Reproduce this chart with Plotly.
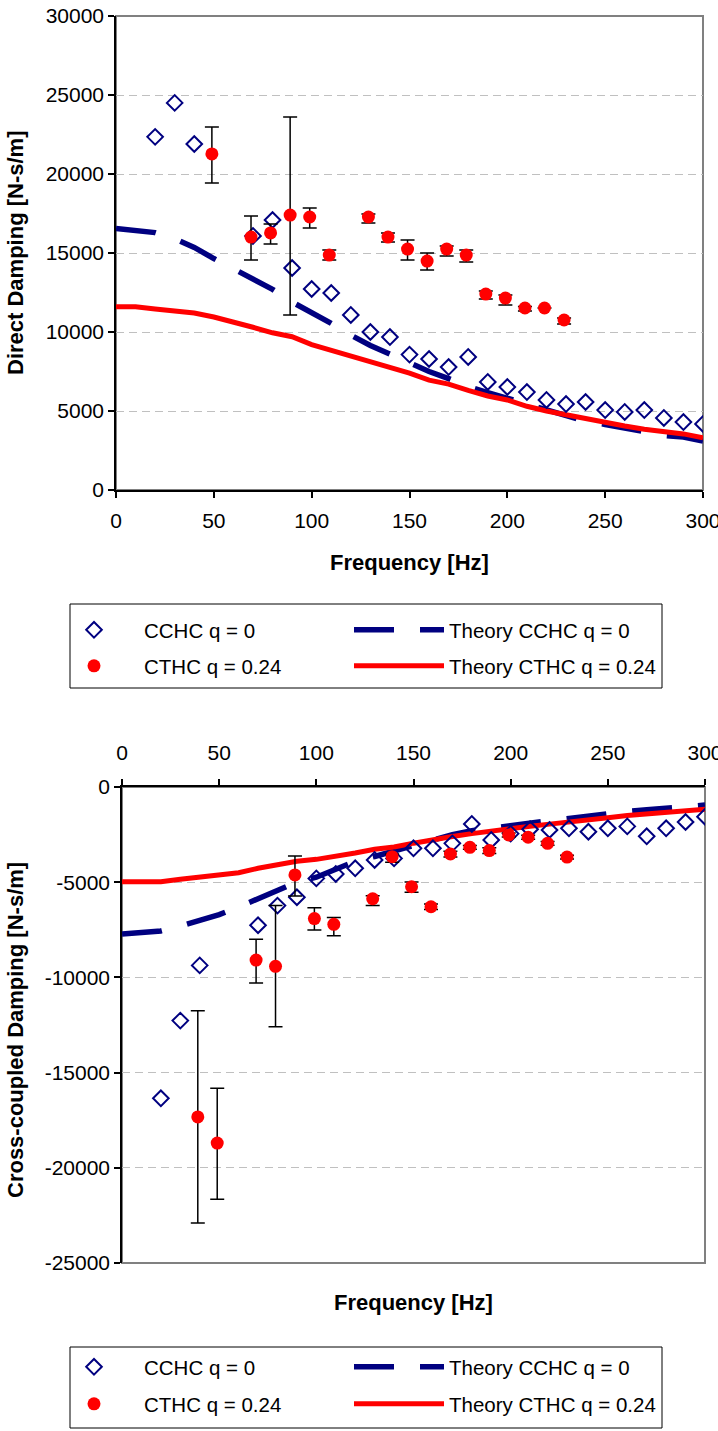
import plotly.graph_objects as go

# ---------------- data ----------------
freq_theory = [0, 10, 20, 30, 40, 50, 60, 70, 80, 90, 100, 110, 120, 130, 140, 150,
               160, 170, 180, 190, 200, 210, 220, 230, 240, 250, 260, 270, 280, 290, 300]

# Direct damping (top)
cchc_freq = [20, 30, 40, 70, 80, 90, 100, 110, 120, 130, 140, 150, 160, 170, 180,
             190, 200, 210, 220, 230, 240, 250, 260, 270, 280, 290, 300]
cchc_direct = [22350, 24500, 21900, 16080, 17090, 14050, 12720, 12470, 11080, 10000,
               9680, 8570, 8290, 7780, 8420, 6840, 6520, 6200, 5700, 5440, 5570, 5060,
               4940, 5060, 4560, 4300, 4180]

cthc_freq_top = [49, 69, 79, 89, 99, 109, 129, 139, 149, 159, 169, 179, 189, 199, 209, 219, 229]
cthc_direct = [21270, 16010, 16270, 17400, 17280, 14870, 17280, 16010, 15250, 14490,
               15250, 14870, 12400, 12150, 11520, 11520, 10760]
cthc_direct_err_plus = [1710, 1330, 570, 6200, 570, 320, 190, 250, 570, 510, 190, 320,
                        200, 190, 100, 0, 130]
cthc_direct_err_minus = [1840, 1450, 700, 6320, 700, 310, 380, 310, 690, 570, 440, 440,
                         310, 440, 190, 0, 250]

theory_cchc_direct = [16550, 16420, 16290, 15900, 15350, 14650, 14000, 13350, 12700,
                      11900, 11250, 10550, 9800, 9150, 8600, 8050, 7500, 7050, 6550,
                      6170, 5800, 5440, 5100, 4700, 4350, 4150, 3950, 3700, 3450, 3350, 3100]
theory_cthc_direct = [11600, 11600, 11450, 11350, 11200, 10950, 10650, 10300, 9950,
                      9700, 9200, 8850, 8500, 8150, 7800, 7400, 6950, 6700, 6300, 5950,
                      5700, 5300, 5000, 4750, 4500, 4300, 4050, 3850, 3700, 3550, 3300]

# Cross-coupled damping (bottom)
cchc_cross = [-16350, -12270, -9370, -7260, -6230, -5790, -4800, -4570, -4270, -3830,
              -3750, -3220, -3220, -2960, -1940, -2780, -2450, -2220, -2260, -2170,
              -2350, -2170, -2070, -2590, -2170, -1840, -1560]

cthc_freq_bot = [39, 49, 69, 79, 89, 99, 109, 129, 139, 149, 159, 169, 179, 189, 199, 209, 219, 229]
cthc_cross = [-17330, -18700, -9090, -9420, -4620, -6910, -7210, -5870, -3660, -5240,
              -6290, -3520, -3170, -3340, -2520, -2640, -2960, -3680]
cthc_cross_err_plus = [5580, 2880, 1090, 3190, 1000, 570, 350, 160, 140, 250, 150, 150,
                       100, 150, 100, 100, 100, 100]
cthc_cross_err_minus = [5570, 2950, 1200, 3170, 1100, 600, 600, 360, 290, 290, 150, 150,
                        100, 150, 100, 100, 100, 100]

theory_cchc_cross = [-7720, -7650, -7560, -7300, -7000, -6700, -6300, -5850, -5450,
                     -5000, -4740, -4300, -3900, -3650, -3350, -3050, -2750, -2500,
                     -2300, -2150, -2020, -1900, -1770, -1650, -1520, -1380, -1280,
                     -1200, -1100, -1000, -950]
theory_cthc_cross = [-4970, -4970, -4970, -4850, -4740, -4620, -4500, -4270, -4100,
                     -3900, -3800, -3650, -3470, -3270, -3150, -2950, -2760, -2600,
                     -2450, -2300, -2180, -2060, -1950, -1820, -1720, -1610, -1500,
                     -1420, -1330, -1250, -1170]

x_ticks = [0, 50, 100, 150, 200, 250, 300]
y_ticks_top = [0, 5000, 10000, 15000, 20000, 25000, 30000]
y_ticklabels_top = ["0", "5000", "10000", "15000", "20000", "25000", "30000"]
y_ticks_bot = [0, -5000, -10000, -15000, -20000, -25000]
y_ticklabels_bot = ["0", "-5000", "-10000", "-15000", "-20000", "-25000"]
names = ["CCHC q = 0", "Theory CCHC q = 0", "CTHC q = 0.24", "Theory CTHC q = 0.24"]

# ---------------- style ----------------
W, H = 718, 1431
NAVY = "#000080"
RED = "#FF0000"
FONT = "Liberation Sans, Arial, sans-serif"
GRID = "#C0C0C0"

fig = go.Figure()


def add_set(xa, ya, legs, y_cchc, f_cthc, y_cthc, ep, em, th_cchc, th_cthc):
    # legs: legend ids for [CCHC, Theory CCHC, CTHC, Theory CTHC]
    fig.add_trace(go.Scatter(x=freq_theory, y=th_cchc, mode="lines", name=names[1],
                             line=dict(color=NAVY, width=5.5, dash="40px,26px"),
                             xaxis=xa, yaxis=ya, legend=legs[1]))
    fig.add_trace(go.Scatter(x=freq_theory, y=th_cthc, mode="lines", name=names[3],
                             line=dict(color=RED, width=5),
                             xaxis=xa, yaxis=ya, legend=legs[3]))
    fig.add_trace(go.Scatter(x=cchc_freq, y=y_cchc, mode="markers", name=names[0],
                             marker=dict(symbol="diamond-open", size=12, color=NAVY,
                                         line=dict(width=2, color=NAVY)),
                             xaxis=xa, yaxis=ya, legend=legs[0]))
    fig.add_trace(go.Scatter(x=f_cthc, y=y_cthc, mode="markers", name=names[2],
                             marker=dict(symbol="circle", size=13, color=RED),
                             error_y=dict(type="data", symmetric=False, array=ep,
                                          arrayminus=em, color="black", thickness=1.5,
                                          width=7),
                             xaxis=xa, yaxis=ya, legend=legs[2]))


add_set("x", "y", ["legend", "legend2", "legend3", "legend4"], cchc_direct,
        cthc_freq_top, cthc_direct, cthc_direct_err_plus, cthc_direct_err_minus,
        theory_cchc_direct, theory_cthc_direct)
add_set("x2", "y2", ["legend5", "legend6", "legend7", "legend8"], cchc_cross,
        cthc_freq_bot, cthc_cross, cthc_cross_err_plus, cthc_cross_err_minus,
        theory_cchc_cross, theory_cthc_cross)

# plot-area geometry (pixels)
top_x0, top_x1, top_y0, top_y1 = 116, 703, 16, 490
bot_x0, bot_x1, bot_y0, bot_y1 = 122, 705, 787, 1263


def px_x(v):
    return v / W


def px_y(v):
    return 1 - v / H


tickfont = dict(family=FONT, size=21, color="black")
common_x = dict(range=[0, 300], tickvals=x_ticks, ticks="outside", ticklen=6,
                tickcolor="black", tickwidth=1.5, showline=True, linecolor="black",
                linewidth=1.5, showgrid=False, zeroline=False, tickfont=tickfont,
                fixedrange=True, automargin=False, ticklabeloverflow="allow")
common_y = dict(ticks="outside", ticklen=6, tickcolor="black", tickwidth=1.5,
                showline=True, linecolor="black", linewidth=1.5, showgrid=True,
                gridcolor=GRID, gridwidth=1, griddash="8px,5px", zeroline=False,
                tickfont=tickfont, fixedrange=True, automargin=False,
                ticklabeloverflow="allow")


def legend_item(x_px, y_px):
    return dict(x=px_x(x_px), y=px_y(y_px), xanchor="left", yanchor="middle",
                orientation="h", borderwidth=0, bgcolor="rgba(0,0,0,0)",
                font=dict(family=FONT, size=20.5, color="black"), itemwidth=90)


COL1, COL2 = 44, 349
fig.update_layout(
    width=W, height=H, margin=dict(l=0, r=0, t=0, b=0, autoexpand=False),
    paper_bgcolor="white", plot_bgcolor="white",
    font=dict(family=FONT, color="black"),
    xaxis=dict(common_x, domain=[px_x(top_x0), px_x(top_x1)], anchor="y", side="bottom",
               ticklabelstandoff=5),
    yaxis=dict(common_y, domain=[px_y(top_y1), px_y(top_y0)], range=[0, 30000],
               tickvals=y_ticks_top, ticktext=y_ticklabels_top, anchor="x"),
    xaxis2=dict(common_x, domain=[px_x(bot_x0), px_x(bot_x1)], anchor="y2", side="top",
                ticklabelstandoff=11),
    yaxis2=dict(common_y, domain=[px_y(bot_y1), px_y(bot_y0)], range=[-25000, 0],
                tickvals=y_ticks_bot, ticktext=y_ticklabels_bot, anchor="x2"),
    legend=legend_item(COL1, 630),
    legend2=legend_item(COL2, 630),
    legend3=legend_item(COL1, 666),
    legend4=legend_item(COL2, 666),
    legend5=legend_item(COL1, 1367),
    legend6=legend_item(COL2, 1367),
    legend7=legend_item(COL1, 1404),
    legend8=legend_item(COL2, 1404),
    showlegend=True,
)

# gray plot-area borders
for xr, yr in (("x", "y"), ("x2", "y2")):
    fig.add_shape(type="rect", xref=f"{xr} domain", yref=f"{yr} domain",
                  x0=0, x1=1, y0=0, y1=1, line=dict(color="#808080", width=2),
                  fillcolor="rgba(0,0,0,0)", layer="below")

# legend boxes
for y0, y1 in ((604, 688), (1347, 1428)):
    fig.add_shape(type="rect", xref="paper", yref="paper",
                  x0=px_x(70), x1=px_x(662), y0=px_y(y1), y1=px_y(y0),
                  line=dict(color="black", width=1), fillcolor="rgba(0,0,0,0)",
                  layer="below")

annos = [
    dict(text="<b>Frequency [Hz]</b>", x=(top_x0 + top_x1) / 2 / W, y=px_y(563)),
    dict(text="<b>Frequency [Hz]</b>", x=(bot_x0 + bot_x1) / 2 / W, y=px_y(1302)),
    dict(text="<b>Direct Damping [N-s/m]</b>", x=px_x(15), y=px_y((top_y0 + top_y1) / 2),
         textangle=-90),
    dict(text="<b>Cross-coupled Damping [N-s/m]</b>", x=px_x(15),
         y=px_y((bot_y0 + bot_y1) / 2 + 5), textangle=-90),
]
for a in annos:
    fig.add_annotation(xref="paper", yref="paper", showarrow=False,
                       xanchor="center", yanchor="middle",
                       font=dict(family=FONT, size=22, color="black"), **a)

fig.write_html("out.html")
